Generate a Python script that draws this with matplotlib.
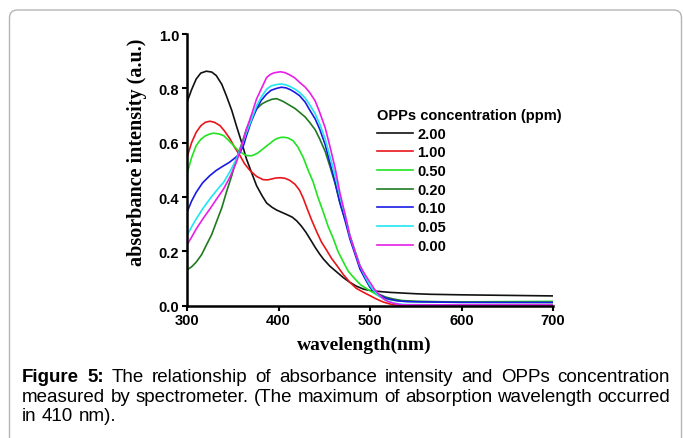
import numpy as np
import matplotlib

matplotlib.use("Agg")
import matplotlib.pyplot as plt
from matplotlib.lines import Line2D
from matplotlib.patches import FancyBboxPatch
from matplotlib.transforms import IdentityTransform

# absorbance spectra (wavelength nm, absorbance a.u.)
wl_200 = [300, 305, 310, 315, 321, 327, 332, 338, 343, 349, 354, 360, 365, 371, 376, 382,
          387, 393, 398, 404, 410, 415, 420, 425, 430, 435, 440, 445, 449, 456, 464, 471,
          478, 485, 493, 500, 511, 522, 533, 550, 566, 600, 650, 700]
ab_200 = [0.749, 0.795, 0.834, 0.856, 0.863, 0.860, 0.847, 0.815, 0.773, 0.718, 0.662,
          0.598, 0.540, 0.486, 0.442, 0.405, 0.378, 0.362, 0.352, 0.343, 0.334, 0.326,
          0.312, 0.293, 0.270, 0.243, 0.215, 0.190, 0.172, 0.146, 0.123, 0.103, 0.086,
          0.072, 0.061, 0.056, 0.052, 0.049, 0.047, 0.044, 0.042, 0.040, 0.038, 0.036]

wl_100 = [300, 305, 310, 315, 320, 325, 330, 336, 341, 347, 352, 358, 363, 369, 376, 383,
          388, 392, 397, 402, 407, 412, 418, 423, 427, 431, 436, 442, 447, 453, 458, 464,
          471, 478, 485, 493, 500, 505, 510, 515, 520, 525, 530, 540, 700]
ab_100 = [0.546, 0.600, 0.638, 0.662, 0.675, 0.679, 0.675, 0.663, 0.643, 0.614, 0.583,
          0.552, 0.522, 0.497, 0.476, 0.464, 0.463, 0.466, 0.470, 0.471, 0.469, 0.462,
          0.447, 0.425, 0.396, 0.360, 0.317, 0.270, 0.234, 0.202, 0.174, 0.147, 0.114,
          0.086, 0.064, 0.049, 0.037, 0.028, 0.020, 0.013, 0.008, 0.004, 0.002, 0.0, 0.0]

wl_050 = [300, 305, 310, 315, 320, 325, 329, 335, 340, 345, 351, 356, 362, 366, 371, 377,
          383, 387, 391, 395, 398, 402, 405, 410, 416, 421, 427, 432, 438, 443, 449, 454,
          460, 465, 471, 476, 482, 490, 500, 510, 517, 525, 535, 550, 600, 650, 700]
ab_050 = [0.485, 0.545, 0.589, 0.612, 0.625, 0.632, 0.635, 0.632, 0.626, 0.610, 0.589,
          0.571, 0.558, 0.552, 0.552, 0.561, 0.577, 0.588, 0.598, 0.609, 0.615, 0.619,
          0.620, 0.618, 0.607, 0.585, 0.546, 0.502, 0.454, 0.400, 0.344, 0.294, 0.246,
          0.200, 0.160, 0.128, 0.104, 0.076, 0.055, 0.035, 0.026, 0.020, 0.017, 0.015,
          0.014, 0.015, 0.016]

wl_020 = [300, 305, 310, 316, 321, 327, 332, 338, 343, 349, 354, 360, 365, 371, 376, 382,
          387, 393, 398, 405, 413, 418, 423, 429, 434, 440, 445, 451, 456, 462, 467, 473,
          478, 484, 489, 495, 500, 505, 510, 517, 525, 535, 550, 600, 700]
ab_020 = [0.132, 0.143, 0.160, 0.188, 0.222, 0.262, 0.307, 0.360, 0.417, 0.480, 0.540,
          0.598, 0.650, 0.692, 0.724, 0.743, 0.752, 0.760, 0.762, 0.752, 0.736, 0.726,
          0.712, 0.695, 0.675, 0.648, 0.614, 0.568, 0.515, 0.448, 0.380, 0.316, 0.258,
          0.197, 0.147, 0.102, 0.068, 0.053, 0.042, 0.032, 0.025, 0.019, 0.016, 0.013,
          0.012]

wl_010 = [300, 305, 310, 317, 325, 332, 340, 346, 351, 355, 358, 362, 365, 370, 376, 381,
          387, 392, 398, 403, 408, 413, 418, 423, 429, 434, 440, 445, 451, 456, 462, 467,
          473, 478, 484, 489, 495, 500, 505, 510, 515, 520, 530, 540, 600, 700]
ab_010 = [0.344, 0.385, 0.417, 0.452, 0.479, 0.498, 0.515, 0.527, 0.540, 0.551, 0.564,
          0.592, 0.626, 0.676, 0.724, 0.755, 0.779, 0.793, 0.800, 0.804, 0.802, 0.795,
          0.785, 0.773, 0.750, 0.721, 0.688, 0.650, 0.593, 0.528, 0.452, 0.380, 0.310,
          0.246, 0.186, 0.135, 0.097, 0.068, 0.052, 0.040, 0.031, 0.025, 0.018, 0.015,
          0.012, 0.012]

wl_005 = [300, 305, 310, 317, 325, 332, 340, 347, 354, 360, 365, 371, 376, 382, 387, 392,
          398, 403, 408, 413, 418, 423, 429, 434, 440, 445, 451, 456, 462, 467, 473, 478,
          484, 489, 495, 500, 505, 510, 517, 525, 532, 540, 600, 700]
ab_005 = [0.258, 0.290, 0.319, 0.356, 0.393, 0.423, 0.454, 0.494, 0.540, 0.591, 0.638,
          0.690, 0.736, 0.772, 0.797, 0.809, 0.814, 0.816, 0.813, 0.806, 0.797, 0.785,
          0.765, 0.740, 0.707, 0.669, 0.614, 0.552, 0.478, 0.405, 0.330, 0.258, 0.197,
          0.147, 0.105, 0.074, 0.052, 0.035, 0.020, 0.010, 0.006, 0.004, 0.003, 0.003]

wl_000 = [300, 305, 310, 317, 325, 332, 340, 347, 354, 360, 365, 371, 376, 382, 387, 391,
          395, 402, 407, 412, 418, 423, 429, 434, 440, 445, 451, 456, 462, 467, 473, 478,
          484, 489, 495, 500, 505, 510, 515, 520, 527, 535, 600, 700]
ab_000 = [0.224, 0.252, 0.282, 0.318, 0.356, 0.391, 0.430, 0.474, 0.528, 0.590, 0.650,
          0.708, 0.761, 0.804, 0.840, 0.851, 0.857, 0.861, 0.858, 0.850, 0.838, 0.822,
          0.805, 0.785, 0.754, 0.712, 0.655, 0.589, 0.505, 0.417, 0.333, 0.258, 0.196,
          0.147, 0.112, 0.086, 0.060, 0.040, 0.025, 0.015, 0.008, 0.003, 0.003, 0.003]

conc_labels = ["2.00", "1.00", "0.50", "0.20", "0.10", "0.05", "0.00"]
series = [(wl_200, ab_200), (wl_100, ab_100), (wl_050, ab_050), (wl_020, ab_020),
          (wl_010, ab_010), (wl_005, ab_005), (wl_000, ab_000)]
colors = ["#111111", "#e8161b", "#22e322", "#1f7a1f", "#1a1ae6", "#20e6f0", "#e81ee8"]

x_ticks = [300, 400, 500, 600, 700]
y_ticks = [0.0, 0.2, 0.4, 0.6, 0.8, 1.0]

caption_lines = [
    "Figure 5: The relationship of absorbance intensity and OPPs concentration",
    "measured by spectrometer. (The maximum of absorption wavelength occurred",
    "in 410 nm).",
]

W, H = 683, 439
fig = plt.figure(figsize=(W / 100, H / 100), dpi=100)
fig.patch.set_facecolor("white")

# rounded frame around the figure block
frame = FancyBboxPatch((9.5, -20), 672, 448, boxstyle="round,pad=0,rounding_size=8",
                       transform=IdentityTransform(), facecolor="none",
                       edgecolor="#b5b5b5", linewidth=1.0)
fig.add_artist(frame)

ax = fig.add_axes([187 / W, 1 - 306.7 / H, (553 - 187) / W, (306.7 - 35) / H])
for (wl, ab), c, lab in zip(series, colors, conc_labels):
    ax.plot(wl, ab, color=c, lw=1.2, label=lab, solid_joinstyle="round")

ax.set_xlim(300, 700)
ax.set_ylim(0, 1.0)
ax.set_xticks(x_ticks)
ax.set_yticks(y_ticks)
ax.set_yticklabels([f"{v:.1f}" for v in y_ticks])
for s in ("top", "right"):
    ax.spines[s].set_visible(False)
for s in ("left", "bottom"):
    ax.spines[s].set_linewidth(1.8)
ax.tick_params(direction="out", length=3.5, width=1.5, pad=2)
for t in ax.get_xticklabels() + ax.get_yticklabels():
    t.set_fontfamily("Liberation Sans")
    t.set_fontweight("bold")
    t.set_fontsize(10.5)

fig.text(137 / W, 1 - 152 / H, "absorbance intensity (a.u.)", rotation=90,
         ha="center", va="center", family="Liberation Serif", weight="bold", fontsize=14.5)
fig.text(364 / W, 1 - 345 / H, "wavelength(nm)", ha="center", va="center",
         family="Liberation Serif", weight="bold", fontsize=14)

handles = [Line2D([], [], color=c, lw=1.2) for c in colors]
leg = ax.legend(handles, conc_labels, title="OPPs concentration (ppm)",
                loc="upper left", bbox_to_anchor=(377 / W, 1 - 109 / H),
                bbox_transform=fig.transFigure, frameon=False, handlelength=2.45,
                handletextpad=0.3, labelspacing=0.32, borderpad=0, borderaxespad=0,
                alignment="left",
                prop={"family": "Liberation Sans", "weight": "bold", "size": 10.5},
                title_fontproperties={"family": "Liberation Sans", "weight": "bold",
                                      "size": 10.5})

# justified caption
renderer = fig.canvas.get_renderer()
cap_font = {"family": "Liberation Sans", "size": 13.5}
x_left, x_right = 22, 670
baselines = [382, 402, 421]
for i, (line, yb) in enumerate(zip(caption_lines, baselines)):
    words = line.split(" ")
    arts = []
    for j, w in enumerate(words):
        bold = i == 0 and j < 2
        t = fig.text(0, 1 - yb / H, w, ha="left", va="baseline",
                     weight="bold" if bold else "normal", **cap_font)
        arts.append(t)
    widths = [a.get_window_extent(renderer).width for a in arts]
    sp = fig.text(0, 0, "a a", **cap_font)
    sp2 = fig.text(0, 0, "aa", **cap_font)
    space = sp.get_window_extent(renderer).width - sp2.get_window_extent(renderer).width
    sp.remove()
    sp2.remove()
    gap = space
    if i < len(caption_lines) - 1:
        gap = max((x_right - x_left - sum(widths)) / (len(words) - 1), space * 0.6)
    x = x_left
    for a, w in zip(arts, widths):
        a.set_x(x / W)
        x += w + gap

fig.savefig("out.png", dpi=100)
